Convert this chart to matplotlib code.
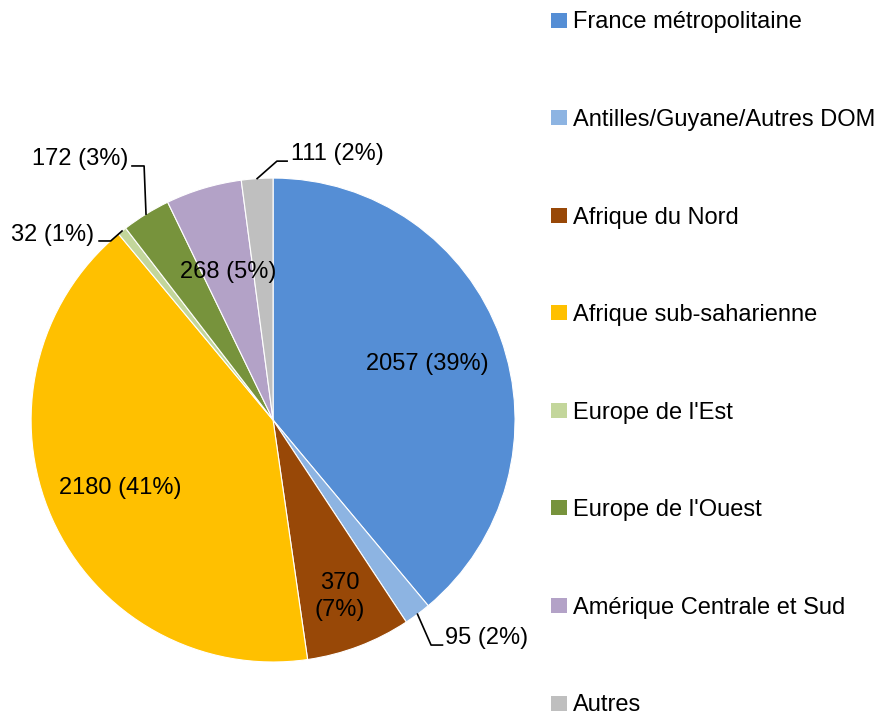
import numpy as np
import matplotlib.pyplot as plt
from matplotlib.patches import Patch

plt.rcParams['font.family'] = ['Liberation Sans', 'DejaVu Sans']

# Data
categories = ["France métropolitaine", "Antilles/Guyane/Autres DOM", "Afrique du Nord",
              "Afrique sub-saharienne", "Europe de l'Est", "Europe de l'Ouest",
              "Amérique Centrale et Sud", "Autres"]
values = [2057, 95, 370, 2180, 32, 172, 268, 111]
colors = ['#558ED5', '#8DB4E2', '#984807', '#FFC000', '#C3D69B', '#77933C', '#B3A2C7', '#BFBFBF']

total = sum(values)
pcts = [round(v / total * 100) for v in values]
labels = [f"{v} ({p}%)" for v, p in zip(values, pcts)]
labels[2] = f"{values[2]}\n({pcts[2]}%)"

fig = plt.figure(figsize=(8.82, 7.18), dpi=100)
ax = fig.add_axes([0.0351, 0.078, 0.549, 0.674])

wedges, _ = ax.pie(values, colors=colors, startangle=90, counterclock=False,
                   radius=1.0, wedgeprops=dict(edgecolor='white', linewidth=0.8))
ax.set_xlim(-1, 1)
ax.set_ylim(-1, 1)
ax.set_aspect('equal')

fs = 17

# inside labels: index -> radius factor
inside = {0: 0.68, 2: 0.78, 3: 0.69, 6: 0.64}
# outside labels: index -> (elbow, line end, text pos, ha)
outside = {
    1: ((0.653, -0.93), (0.70, -0.93), (0.712, -0.90), 'left'),
    4: ((-0.671, 0.74), (-0.719, 0.74), (-0.74, 0.765), 'right'),
    5: ((-0.533, 1.05), (-0.583, 1.05), (-0.60, 1.08), 'right'),
    7: ((0.016, 1.07), (0.058, 1.07), (0.075, 1.10), 'left'),
}

for i, w in enumerate(wedges):
    mid = np.deg2rad((w.theta1 + w.theta2) / 2)
    if i in inside:
        r = inside[i]
        ax.text(r * np.cos(mid), r * np.sin(mid), labels[i], ha='center', va='center',
                fontsize=fs, color='black', linespacing=1.3)
    else:
        elbow, end, tpos, ha = outside[i]
        ex, ey = np.cos(mid), np.sin(mid)
        ax.plot([ex, elbow[0], end[0]], [ey, elbow[1], end[1]], color='black', lw=1.2,
                clip_on=False)
        ax.text(tpos[0], tpos[1], labels[i], ha=ha, va='center', fontsize=fs, color='black')

handles = [Patch(facecolor=c, edgecolor='none') for c in colors]
fig.legend(handles, categories, loc='upper left', bbox_to_anchor=(0.6247, 0.984),
           frameon=False, fontsize=fs, handlelength=0.68, handleheight=0.6,
           handletextpad=0.25, labelspacing=3.2, borderpad=0, borderaxespad=0)

fig.savefig('out.png', dpi=100)
